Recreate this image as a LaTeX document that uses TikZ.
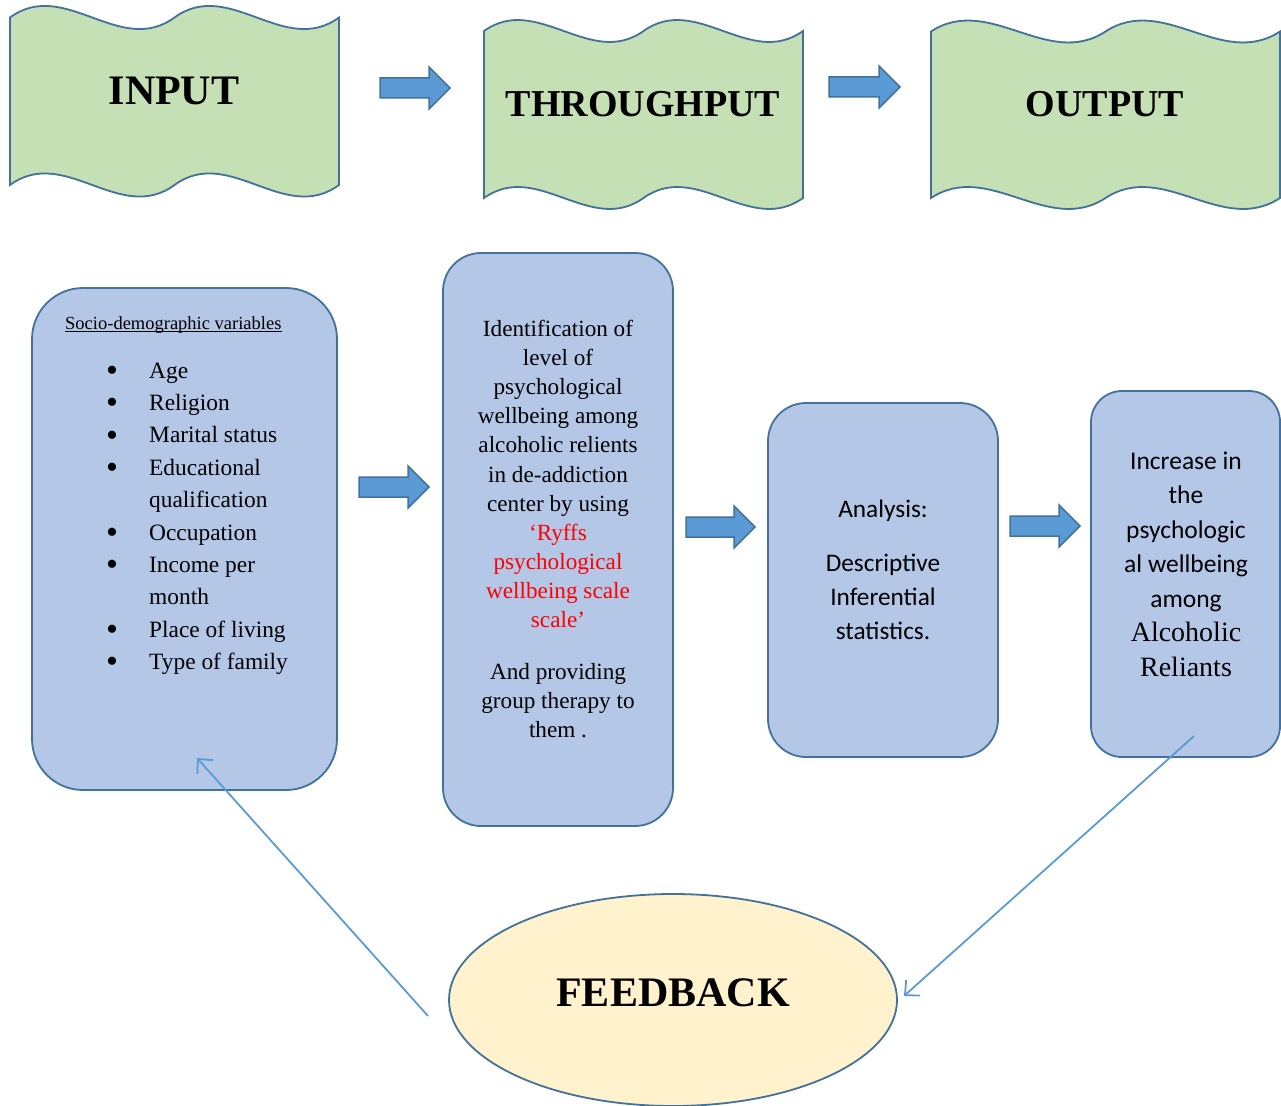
\documentclass[tikz,border=0pt]{standalone}
\usepackage{fontspec}
\setmainfont{Liberation Serif}
\newfontfamily\calibri{Carlito}
\usetikzlibrary{shapes.geometric,arrows.meta}
\definecolor{wavefill}{HTML}{C5E0B4}
\definecolor{boxfill}{HTML}{B4C7E7}
\definecolor{edgeblue}{HTML}{41719C}
\definecolor{arrowfill}{HTML}{5B9BD5}
\definecolor{ellfill}{HTML}{FFF2CC}
\definecolor{fbred}{HTML}{FF0000}
\newcommand\wavebox[5]{% L, R, T, B, amplitude control
\draw[waveshape] (#1,#3) .. controls ({#1+(#2-#1)/6},{#3-#5}) and ({#1+(#2-#1)/3},{#3+#5}) .. ({(#1+#2)/2},#3)
 .. controls ({#1+2*(#2-#1)/3},{#3-#5}) and ({#1+5*(#2-#1)/6},{#3+#5}) .. (#2,#3)
 -- (#2,#4) .. controls ({#1+5*(#2-#1)/6},{#4+#5}) and ({#1+2*(#2-#1)/3},{#4-#5}) .. ({(#1+#2)/2},#4)
 .. controls ({#1+(#2-#1)/3},{#4+#5}) and ({#1+(#2-#1)/6},{#4-#5}) .. (#1,#4) -- cycle;}
\newcommand\blockarrow[3]{% start x, tip x, centre y
\draw[blockarr] (#1,{#3-10}) -- ({#2-21},{#3-10}) -- ({#2-21},{#3-21}) -- (#2,#3) -- ({#2-21},{#3+21}) -- ({#2-21},{#3+10}) -- (#1,{#3+10}) -- cycle;}
\newcommand\bul{\makebox[43pt][l]{\raisebox{-3.2pt}{\fontsize{34}{0}\selectfont\textbullet}}}
\begin{document}
\begin{tikzpicture}[x=1pt,y=-1pt,
  waveshape/.style={draw=edgeblue,fill=wavefill,line width=1.8pt},
  blockarr/.style={draw=edgeblue,fill=arrowfill,line width=1.5pt},
  roundbox/.style={draw=edgeblue,fill=boxfill,line width=1.8pt,inner sep=0pt},
  title/.style={font=\fontsize{38}{44}\selectfont\bfseries,inner sep=0pt},
  txt/.style={inner sep=0pt,anchor=base},
  fbline/.style={draw=arrowfill,line width=1.8pt,-{Straight Barb[length=11pt,width=21pt]}}]
\useasboundingbox (0,0) rectangle (1281,1105);
% top wave shapes
\wavebox{10}{339}{17.5}{185}{40}
\wavebox{484}{803}{31}{198}{38}
\wavebox{931}{1280}{31.5}{198}{38}
\node[title,font=\fontsize{42}{48}\selectfont\bfseries] (tin) at (174,91) {INPUT};
\node[title] (tthr) at (643,104) {THROUGHPUT};
\node[title] (tout) at (1105,104) {OUTPUT};
\blockarrow{380}{450}{88}
\blockarrow{829}{900}{87}
% rounded boxes
\node[roundbox,rounded corners=51pt,minimum width=305pt,minimum height=502pt] (b1) at (184.5,539) {};
\node[roundbox,rounded corners=38pt,minimum width=230pt,minimum height=573pt] (b2) at (558,539.5) {};
\node[roundbox,rounded corners=38pt,minimum width=230pt,minimum height=354pt] (b3) at (883,580) {};
\node[roundbox,rounded corners=31pt,minimum width=189pt,minimum height=366pt] (b4) at (1185.5,574) {};
\blockarrow{359}{429}{487}
\blockarrow{686}{755}{527}
\blockarrow{1010}{1080}{526}
% box 1 text
\node[inner sep=0pt,anchor=base west] (soc) at (65,329) {\fontsize{18.5}{22}\selectfont Socio-demographic variables};
\draw[line width=0.9pt] ([yshift=-2.5pt]soc.base west) -- ([yshift=-2.5pt]soc.base east);
\node[inner sep=0pt,anchor=base west] (list) at (106,378) {\parbox[t]{225pt}{\fontsize{23.4}{32.4}\selectfont
\bul Age\\
\bul Religion\\
\bul Marital status\\
\bul Educational\\
\hspace*{43pt}qualification\\
\bul Occupation\\
\bul Income per\\
\hspace*{43pt}month\\
\bul Place of living\\
\bul Type of family}};
% box 2 text
\node[txt] (t2) at (558,336.5) {\parbox[t]{228pt}{\centering\fontsize{23.2}{29.1}\selectfont
Identification of\\level of\\psychological\\wellbeing among\\alcoholic relients\\in de-addiction\\center by using\\
{\color{fbred}‘Ryffs}\\{\color{fbred}psychological}\\{\color{fbred}wellbeing scale}\\{\color{fbred}scale’}\\[22.5pt]
And providing\\group therapy to\\them .}};
% box 3 text
\node[txt] (t3) at (883,517) {\parbox[t]{220pt}{\centering\calibri\fontsize{25.3}{34}\selectfont
Analysis:\\[20pt]Descriptive\\Inferential\\statistics.}};
% box 4 text
\node[txt] (t4) at (1186,469) {\parbox[t]{185pt}{\centering\calibri\fontsize{25.5}{34.5}\selectfont
Increase in\\the\\psychologic\\al wellbeing\\among\\{\rmfamily\fontsize{28}{34.5}\selectfont Alcoholic}\\{\rmfamily\fontsize{28}{34.5}\selectfont Reliants}}};
% feedback
\node[ellipse,draw=edgeblue,fill=ellfill,line width=1.8pt,minimum width=448pt,minimum height=212pt,inner sep=0pt] (fb) at (673,1000) {};
\node[title,font=\fontsize{42}{48}\selectfont\bfseries] (tfb) at (673,993) {FEEDBACK};
\coordinate (f1s) at (428,1016);
\coordinate (f1e) at (197,758);
\coordinate (f2s) at (1194,736);
\coordinate (f2e) at (904,996);
\draw[fbline] (f1s) -- (f1e);
\draw[fbline] (f2s) -- (f2e);
\end{tikzpicture}
\end{document}
